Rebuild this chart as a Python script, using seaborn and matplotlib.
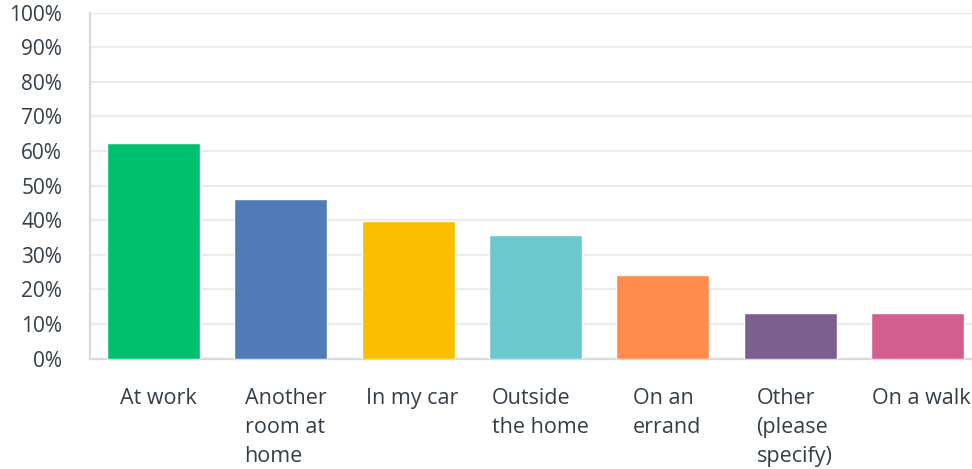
import matplotlib
matplotlib.use("Agg")
import matplotlib.pyplot as plt
from matplotlib.ticker import FuncFormatter, MultipleLocator
import seaborn as sns
import pandas as pd

categories = ["At work", "Another room at home", "In my car", "Outside the home",
              "On an errand", "Other (please specify)", "On a walk"]
tick_labels = ["At work", "Another\nroom at\nhome", "In my car", "Outside\nthe home",
               "On an\nerrand", "Other\n(please\nspecify)", "On a walk"]
values = [62.3, 46.1, 39.7, 35.6, 24.3, 13.3, 13.3]
colors = ["#00BF6F", "#507CB6", "#F9BE00", "#6BC8CD", "#FF8B4F", "#7D5E90", "#D25F90"]

df = pd.DataFrame({"category": categories, "value": values})

sns.set_theme(style="white")
plt.rcParams["font.family"] = ["Open Sans", "DejaVu Sans"]
text_color = "#333E48"

fig = plt.figure(figsize=(9.72, 4.69), dpi=100)
ax = fig.add_axes([90 / 972, 110.3 / 469, 891 / 972, 346.2 / 469])

bar_width = 0.73
sns.barplot(data=df, x="category", y="value", hue="category", palette=colors,
            order=categories, hue_order=categories, width=bar_width, legend=False,
            saturation=1, ax=ax, zorder=3)

ax.set_xlim(-0.5, len(categories) - 0.5)
ax.set_ylim(0, 100)
ax.yaxis.set_major_locator(MultipleLocator(10))
ax.yaxis.set_major_formatter(FuncFormatter(lambda v, p: f"{int(v)}%"))
ax.grid(axis="y", color="#EBEBEB", linewidth=1.6, zorder=0)
ax.grid(axis="x", visible=False)
ax.set_axisbelow(True)

for side in ["top", "right"]:
    ax.spines[side].set_visible(False)
for side in ["left", "bottom"]:
    ax.spines[side].set_visible(True)
    ax.spines[side].set_color("#D9D9D9")
    ax.spines[side].set_linewidth(1.6)

ax.set_xlabel("")
ax.set_ylabel("")
ax.set_xticks([i + 0.035 for i in range(len(categories))])
ax.set_xticklabels(tick_labels, ha="center", multialignment="left", va="top",
                   linespacing=1.5, fontsize=15.5, color=text_color)
ax.tick_params(axis="x", length=0, pad=21)
ax.tick_params(axis="y", length=0, pad=20, labelsize=15, labelcolor=text_color)

fig.savefig("out.png", dpi=100)
